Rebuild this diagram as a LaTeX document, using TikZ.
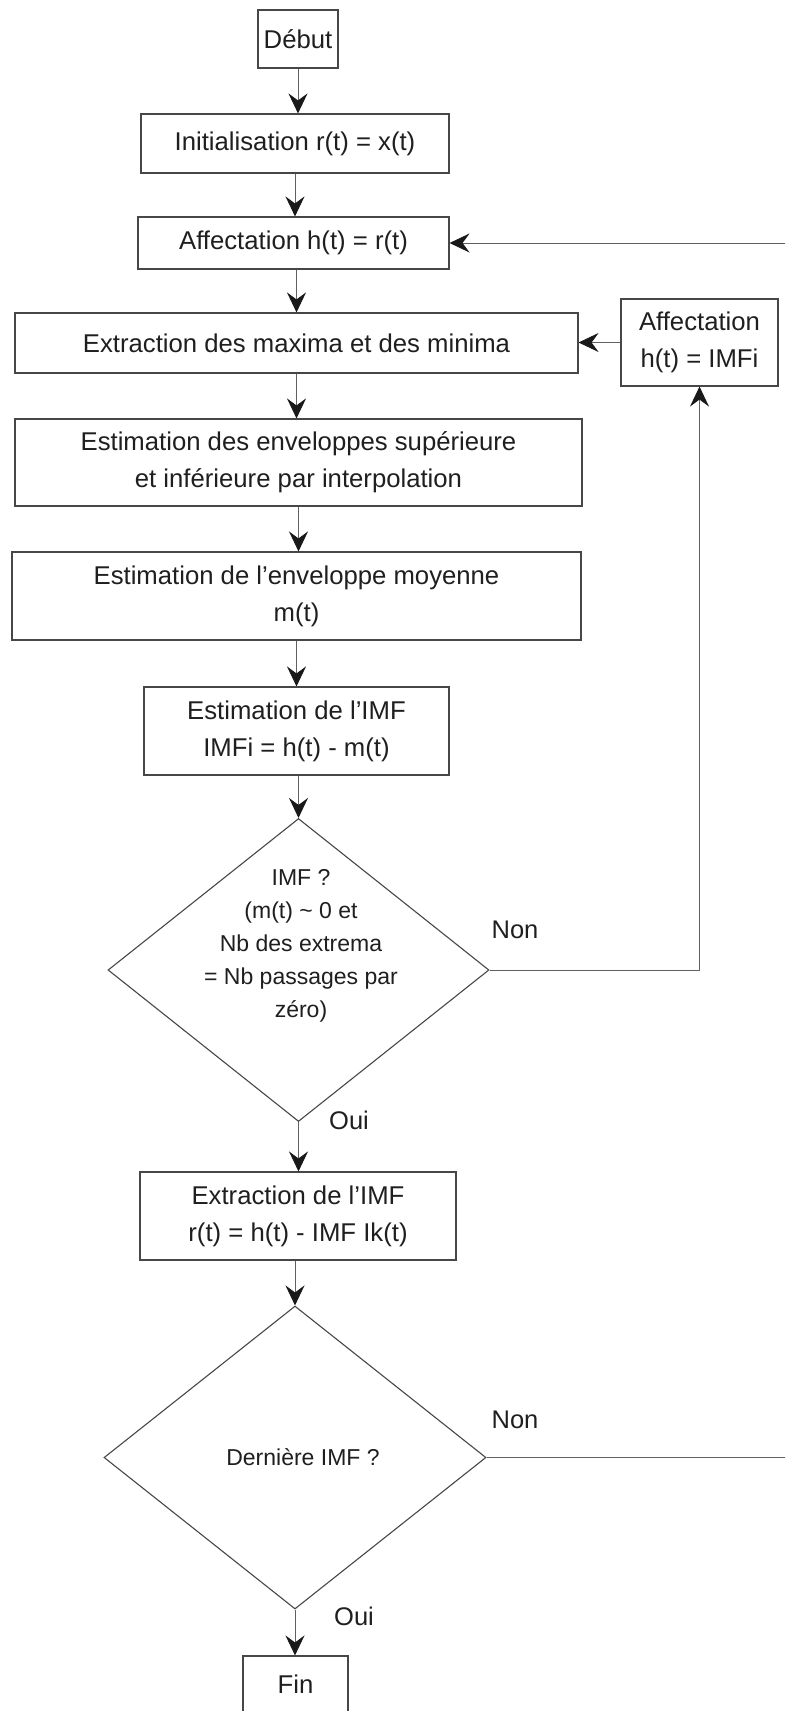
\documentclass[tikz,border=0pt]{standalone}
\usepackage{fontspec}
\setmainfont{Liberation Sans}
\usetikzlibrary{arrows.meta,shapes.geometric,calc}
\begin{document}
\begin{tikzpicture}[x=1pt,y=-1pt,
  box/.style={draw=black!72, line width=1.1pt, text=black!88, align=center, inner sep=0pt, font=\fontsize{25.7}{37}\selectfont},
  dia/.style={diamond, draw=black!72, line width=1.1pt, inner sep=0pt},
  dtext/.style={text=black!88, align=center, font=\fontsize{23}{33}\selectfont, inner sep=0pt},
  lab/.style={text=black!88, font=\fontsize{25.5}{30}\selectfont, inner sep=0pt},
  arr/.style={draw=black!62, line width=0.9pt, -{Stealth[length=20pt,width=19pt,inset=7pt,color=black!90]}},
  plain/.style={draw=black!62, line width=1.1pt}
]
\useasboundingbox (0,0) rectangle (785,1711);
\clip (0,0) rectangle (785,1711);
\fill[white] (0,0) rectangle (785,1711);

\node[box, minimum width=80, minimum height=58] (debut) at (298,39) {Début};
\node[box, minimum width=308, minimum height=59] (init) at (295,143.5) {Initialisation r(t) = x(t)};
\node[box, minimum width=311, minimum height=52] (aff1) at (293.5,243) {Affectation h(t) = r(t)};
\node[box, minimum width=563, minimum height=60] (extr) at (296.5,343) {Extraction des maxima et des minima};
\node[box, minimum width=157, minimum height=87] (aff2) at (699.5,342.5) {Affectation\\h(t) = IMFi};
\node[box, minimum width=567, minimum height=87] (env) at (298.5,462.5) {Estimation des enveloppes supérieure\\et inférieure par interpolation};
\node[box, minimum width=569, minimum height=88] (moy) at (296.5,596) {Estimation de l’enveloppe moyenne\\m(t)};
\node[box, minimum width=305, minimum height=88] (est) at (296.5,731) {Estimation de l’IMF\\IMFi = h(t) - m(t)};
\node[dia, minimum width=381, minimum height=303] (d1) at (298.5,970) {};
\node[dtext] (d1t) at (301,946) {IMF ?\\(m(t) \textasciitilde{} 0 et\\Nb des extrema\\= Nb passages par\\zéro)};
\node[box, minimum width=316, minimum height=88] (ext) at (298,1216) {Extraction de l’IMF\\r(t) = h(t) - IMF Ik(t)};
\node[dia, minimum width=382, minimum height=303] (d2) at (295,1457.5) {};
\node[dtext] (d2t) at (303,1457) {Dernière IMF ?};
\node[box, minimum width=105, minimum height=56] (fin) at (295.5,1684) {Fin};

\node[lab] (non1) at (515,930) {Non};
\node[lab] (oui1) at (349,1120) {Oui};
\node[lab] (non2) at (515,1420) {Non};
\node[lab] (oui2) at (354,1616) {Oui};

\coordinate (r1) at (800,243);
\coordinate (r2) at (800,1457.5);

\draw[arr] (debut.south) -- (debut.south |- init.north);
\draw[arr] (init.south) -- (init.south |- aff1.north);
\draw[arr] (aff1.south -| extr.north) -- (extr.north);
\draw[arr] (extr.south) -- (extr.south |- env.north);
\draw[arr] (env.south) -- (env.south |- moy.north);
\draw[arr] (moy.south) -- (moy.south |- est.north);
\draw[arr] (est.south -| d1.north) -- (d1.north);
\draw[arr] (d1.south) -- (d1.south |- ext.north);
\draw[arr] (ext.south -| d2.north) -- (d2.north);
\draw[arr] (d2.south) -- (d2.south |- fin.north);
\draw[arr] (d1.east) -| (aff2.south);
\draw[arr] (aff2.west) -- (aff2.west -| extr.east);
\draw[arr] (r1) -- (aff1.east);
\draw[plain] (d2.east) -- (r2);
\end{tikzpicture}
\end{document}
